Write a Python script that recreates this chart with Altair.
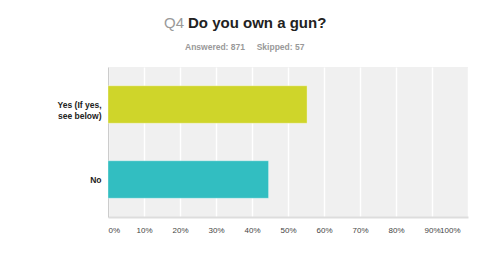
import altair as alt
import pandas as pd

categories = ["Yes (If yes, see below)", "No"]
shares = [0.553, 0.446]
colors = ["#CFD52A", "#32BEC1"]
tick_values = [0, 0.1, 0.2, 0.3, 0.4, 0.5, 0.6, 0.7, 0.8, 0.9, 1.0]
q_label = ["Q4"]
title_text = ["Do you own a gun?"]
answered_text = ["Answered: 871"]
skipped_text = ["Skipped: 57"]

df = pd.DataFrame({"answer": categories, "share": shares})

bars = alt.Chart(df).mark_bar(stroke="#ffffff", strokeOpacity=0.35, strokeWidth=1).encode(
    y=alt.Y(
        "answer:N",
        sort=categories,
        scale=alt.Scale(paddingInner=0.5, paddingOuter=0.25),
        axis=alt.Axis(
            title=None,
            ticks=False,
            labelPadding=7,
            labelFont="Liberation Sans",
            labelFontSize=8.5,
            labelFontWeight="bold",
            labelColor="#222222",
            labelLineHeight=11.5,
            labelExpr="datum.value == 'Yes (If yes, see below)' ? ['Yes (If yes,', 'see below)'] : datum.value",
            domainColor="#cccccc",
            domainWidth=1,
            grid=False,
        ),
    ),
    x=alt.X(
        "share:Q",
        scale=alt.Scale(domain=[0, 1], nice=False),
        axis=alt.Axis(
            title=None,
            values=tick_values,
            format=".0%",
            ticks=False,
            labelPadding=9,
            labelFont="Liberation Sans",
            labelFontSize=8,
            labelColor="#444444",
            labelFlush=True,
            labelOverlap=False,
            labelOffset={"condition": {"test": "datum.value == 1", "value": -8}, "value": 0},
            domainColor="#dddddd",
            domainWidth=2,
            grid=True,
            gridColor="#ffffff",
            gridWidth=1.5,
        ),
    ),
    color=alt.Color("answer:N", scale=alt.Scale(domain=categories, range=colors), legend=None),
)

def text_layer(values, x, y, size, weight, color):
    return alt.Chart(pd.DataFrame({"t": values})).mark_text(
        align="left", baseline="alphabetic", font="Liberation Sans",
        fontSize=size, fontWeight=weight, color=color,
    ).encode(text="t:N", x=alt.value(x), y=alt.value(y))

q = text_layer(q_label, 56, -39, 15, "normal", "#999999")
title = text_layer(title_text, 80, -39, 15, "bold", "#222222")
answered = text_layer(answered_text, 77, -17, 8.5, "bold", "#999999")
skipped = text_layer(skipped_text, 148.7, -17, 8.5, "bold", "#999999")

chart = alt.layer(bars, q, title, answered, skipped).properties(
    width=360,
    height=150,
    padding={"left": 108, "top": 67, "right": 22, "bottom": 56},
    autosize=alt.AutoSizeParams(type="none"),
    background="#ffffff",
).configure_view(fill="#f0f0f0", stroke=None)

chart.save("out.html", embed_options={"renderer": "svg", "actions": False})
